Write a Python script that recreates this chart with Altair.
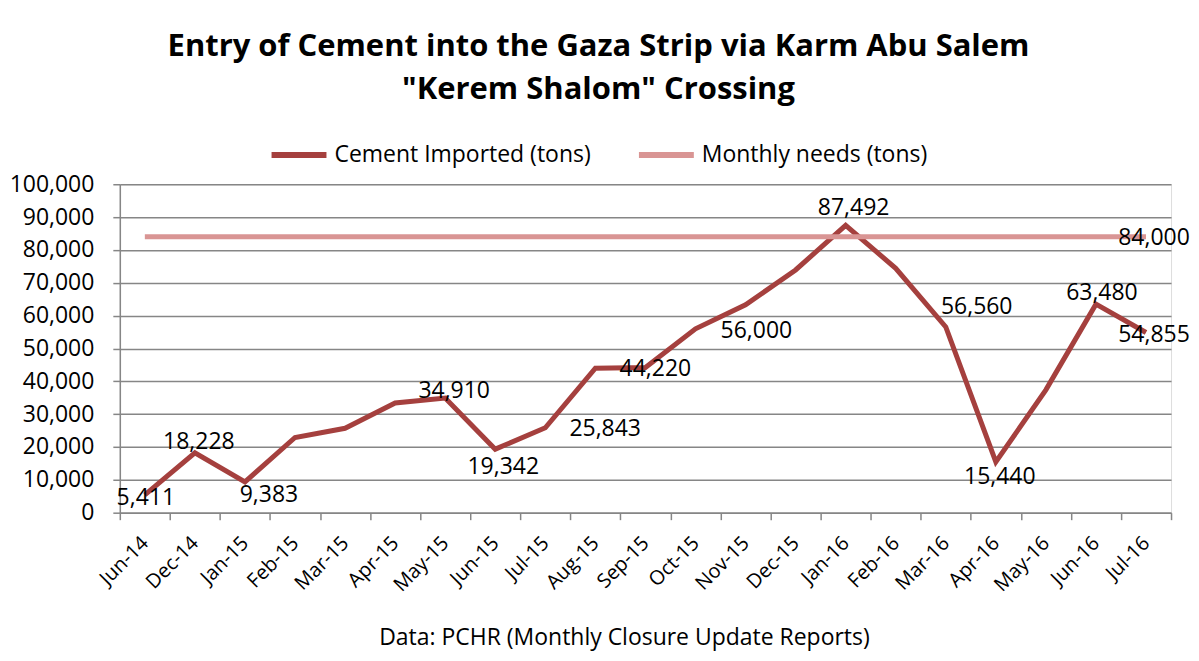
import altair as alt
import pandas as pd

months = ["Jun-14", "Dec-14", "Jan-15", "Feb-15", "Mar-15", "Apr-15", "May-15",
          "Jun-15", "Jul-15", "Aug-15", "Sep-15", "Oct-15", "Nov-15", "Dec-15",
          "Jan-16", "Feb-16", "Mar-16", "Apr-16", "May-16", "Jun-16", "Jul-16"]
imported = [5411, 18228, 9383, 22900, 25700, 33400, 34910,
            19342, 25843, 44000, 44220, 56000, 63300, 73900,
            87492, 74400, 56560, 15440, 37400, 63480, 54855]
needs = [84000, 84000, 84000, 84000, 84000, 84000, 84000,
         84000, 84000, 84000, 84000, 84000, 84000, 84000,
         84000, 84000, 84000, 84000, 84000, 84000, 84000]
series_names = ["Cement Imported (tons)", "Monthly needs (tons)"]
series_colors = ["#A5403E", "#D99594"]

# which points carry a value label
label_series = [0, 0, 0, 0, 0, 0, 0, 0, 0, 0, 0, 0, 0, 1]
label_months = ["Jun-14", "Dec-14", "Jan-15", "May-15", "Jun-15", "Jul-15", "Sep-15",
                "Oct-15", "Jan-16", "Mar-16", "Apr-16", "Jun-16", "Jul-16", "Jul-16"]

# label placement (pixel offsets), kept apart from the data
label_offsets = [(1, 3), (4, -11), (24, 13), (9, -7), (8, 18), (60, 1), (10, 2),
                 (61, 2), (8, -17), (31, -20), (4, 15), (6, -11), (8, 2), (8, 1)]

title_lines = ["Entry of Cement into the Gaza Strip via Karm Abu Salem",
               "\"Kerem Shalom\" Crossing"]
footer = "Data: PCHR (Monthly Closure Update Reports)"
y_ticks = [0, 10000, 20000, 30000, 40000, 50000, 60000, 70000, 80000, 90000, 100000]

FONT = "Open Sans"
GRID = "#868686"

rows = []
for s, vals in enumerate([imported, needs]):
    for m, v in zip(months, vals):
        rows.append({"month": m, "series": series_names[s], "value": v})
df = pd.DataFrame(rows)

x_enc = alt.X(
    "month:N", sort=months, bandPosition=0.5,
    scale=alt.Scale(type="band", paddingInner=0, paddingOuter=0),
    axis=alt.Axis(
        title=footer, titleFont=FONT, titleFontSize=23, titleFontWeight="normal",
        titleColor="black", titleX=505, titleY=125, titleAlign="center",
        titleBaseline="middle", titleAnchor="start",
        labelAngle=-45, labelAlign="right", labelBaseline="middle",
        labelFont=FONT, labelFontSize=20, labelColor="black", labelPadding=20,
        tickBand="extent", tickSize=7, tickColor=GRID, tickWidth=1.5,
        domainColor=GRID, domainWidth=1.5, grid=False, labelOverlap=False,
    ),
)
y_enc = alt.Y(
    "value:Q",
    scale=alt.Scale(domain=[0, 100000], nice=False),
    axis=alt.Axis(
        title=None, values=y_ticks, format=",.0f", labelFont=FONT, labelFontSize=23,
        labelColor="black", labelPadding=19, tickSize=7, tickColor=GRID, tickWidth=1.5,
        domainColor=GRID, domainWidth=1.5, gridColor=GRID, gridWidth=1.5,
    ),
)

lines = alt.Chart(df).mark_line(strokeWidth=5).encode(
    x=x_enc,
    y=y_enc,
    color=alt.Color(
        "series:N",
        scale=alt.Scale(domain=series_names, range=series_colors),
        legend=alt.Legend(
            title=None, orient="none", legendX=149, legendY=-60, direction="horizontal",
            symbolType="stroke", symbolSize=3025, symbolStrokeWidth=6,
            labelFont=FONT, labelFontSize=23, labelColor="black", labelOffset=5,
            labelLimit=0, columnPadding=36,
        ),
    ),
    order=alt.Order("series:N"),
)

layers = [lines]
for i, (s, m) in enumerate(zip(label_series, label_months)):
    val = (imported if s == 0 else needs)[months.index(m)]
    ldf = pd.DataFrame([{"month": m, "value": val}])
    dx, dy = label_offsets[i]
    layers.append(
        alt.Chart(ldf).mark_text(
            font=FONT, fontSize=23, color="black", dx=dx, dy=dy,
            align="center", baseline="middle",
        ).encode(x=x_enc, y=y_enc, text=alt.Text("value:Q", format=","))
    )

chart = alt.layer(*layers).properties(
    width=1053,
    height=329,
    padding={"left": 112, "top": 176, "right": 20, "bottom": 140},
    autosize=alt.AutoSizeParams(type="none"),
    title=alt.TitleParams(
        text=title_lines, font=FONT, fontSize=31, fontWeight="bold", color="black",
        anchor="middle", dx=-47, lineHeight=43, offset=18,
    ),
).configure_view(stroke=None).configure(background="white")

chart.save("out.html", embed_options={"renderer": "svg", "actions": False})
